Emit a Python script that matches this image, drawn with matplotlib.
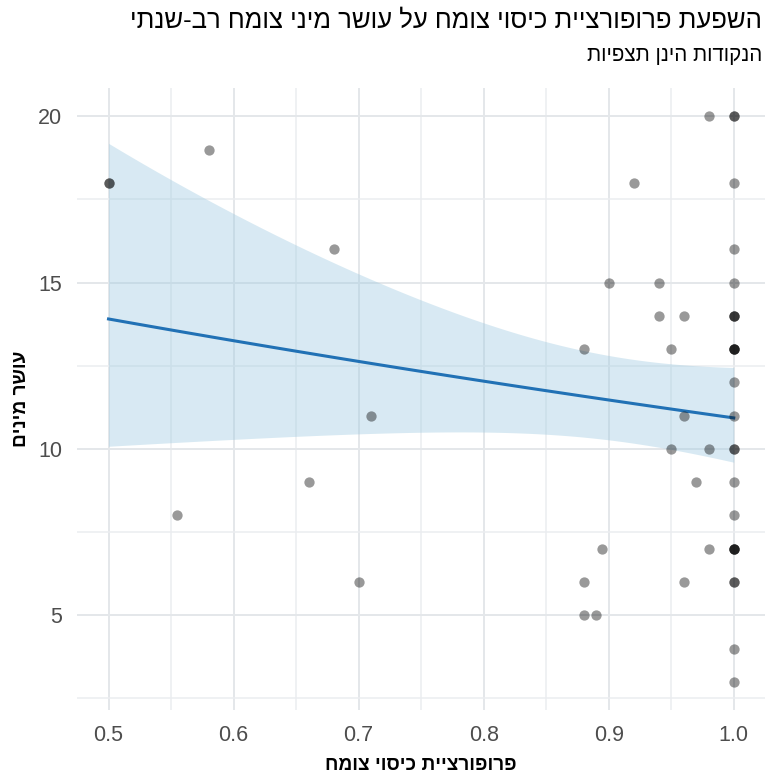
import numpy as np
import matplotlib
matplotlib.use("Agg")
import matplotlib.pyplot as plt
from matplotlib.ticker import MultipleLocator

# observations (cover proportion, species richness)
cover_partial = [0.5, 0.5, 0.58, 0.68, 0.71, 0.66, 0.555, 0.70,
                 0.98, 0.92, 0.90, 0.94, 0.94, 0.96, 0.88, 0.95, 0.96,
                 0.95, 0.98, 0.97, 0.895, 0.98, 0.88, 0.96, 0.88, 0.89]
richness_partial = [18, 18, 19, 16, 11, 9, 8, 6,
                    20, 18, 15, 15, 14, 14, 13, 13, 11,
                    10, 10, 9, 7, 7, 6, 6, 5, 5]
# plots with full cover (x = 1.0)
richness_full = [20, 20, 18, 16, 15, 14, 14, 14, 13, 13, 13, 13, 12, 11,
                 10, 10, 9, 8, 7, 7, 7, 7, 6, 6, 4, 3]

x_ticks = [0.5, 0.6, 0.7, 0.8, 0.9, 1.0]
y_ticks = [5, 10, 15, 20]

title = "השפעת פרופורציית כיסוי צומח על עושר מיני צומח רב-שנתי"
subtitle = "הנקודות הינן תצפיות"
xlabel = "פרופורציית כיסוי צומח"
ylabel = "עושר מינים"


def rtl(s):
    # matplotlib has no bidi support, so flip the Hebrew strings
    return s[::-1]


def quasipoisson_fit(x, y, iters=50):
    # IRLS for log-link poisson, dispersion from pearson residuals
    X = np.column_stack([np.ones_like(x), x])
    beta = np.array([np.log(y.mean()), 0.0])
    for _ in range(iters):
        eta = X @ beta
        mu = np.exp(eta)
        z = eta + (y - mu) / mu
        XtW = X.T * mu
        beta = np.linalg.solve(XtW @ X, XtW @ z)
    mu = np.exp(X @ beta)
    phi = ((y - mu) ** 2 / mu).sum() / (len(y) - 2)
    cov = phi * np.linalg.inv((X.T * mu) @ X)
    return beta, cov


def main():
    plt.rcParams['font.family'] = ['Liberation Sans', 'DejaVu Sans']

    x = np.array(cover_partial + [1.0] * len(richness_full))
    y = np.array(richness_partial + richness_full, dtype=float)

    beta, cov = quasipoisson_fit(x, y)
    xs = np.linspace(x.min(), x.max(), 80)
    Xs = np.column_stack([np.ones_like(xs), xs])
    eta = Xs @ beta
    se = np.sqrt(np.einsum('ij,jk,ik->i', Xs, cov, Xs))
    z = 1.96

    fig = plt.figure(figsize=(7.65, 7.76), dpi=100)
    ax = fig.add_axes([0.101, 0.085, 0.899, 0.8015])

    ax.fill_between(xs, np.exp(eta - z * se), np.exp(eta + z * se),
                    color='#9ecae1', alpha=0.4, linewidth=0, zorder=2)
    ax.plot(xs, np.exp(eta), color='#2171b5', linewidth=2.2, zorder=3)
    ax.scatter(x, y, s=55, color='black', alpha=0.4, linewidths=0, zorder=4)

    ax.set_xlim(0.475, 1.025)
    ax.set_ylim(2.15, 20.85)
    ax.set_xticks(x_ticks)
    ax.set_xticklabels(["{:.1f}".format(v) for v in x_ticks])
    ax.set_yticks(y_ticks)
    ax.xaxis.set_minor_locator(MultipleLocator(0.05))
    ax.yaxis.set_minor_locator(MultipleLocator(2.5))

    ax.grid(True, which='major', color='#e4e7ea', linewidth=1.4, zorder=0)
    ax.grid(True, which='minor', color='#ebedf0', linewidth=1.1, zorder=0)
    ax.set_axisbelow(True)
    for sp in ax.spines.values():
        sp.set_visible(False)
    ax.tick_params(which='both', length=0)
    ax.tick_params(axis='both', labelsize=15.5, labelcolor='#4d4d4d', pad=11)

    ax.set_xlabel(rtl(xlabel), fontsize=13.8, fontweight='bold', labelpad=8)
    ax.set_ylabel(rtl(ylabel), fontsize=13.8, fontweight='bold', labelpad=6)

    fig.text(0.996, 0.973, rtl(title), ha='right', va='center', fontsize=18.5)
    fig.text(0.996, 0.929, rtl(subtitle), ha='right', va='center', fontsize=14.8)

    fig.savefig("out.png", dpi=100)


if __name__ == '__main__':
    main()
